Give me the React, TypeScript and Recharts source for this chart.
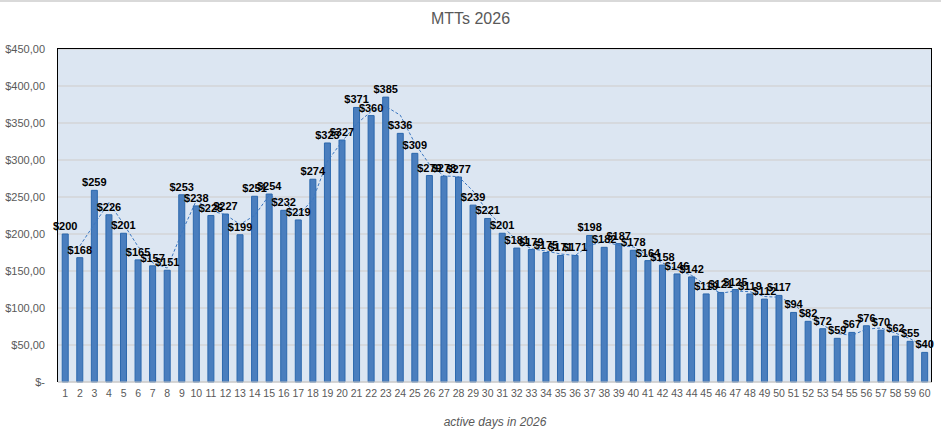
import React from "react";
import {
  Bar,
  CartesianGrid,
  ComposedChart,
  LabelList,
  Line,
  XAxis,
  YAxis,
} from "recharts";

// active days 1..60
const days = Array.from({ length: 60 }, (_, i) => String(i + 1));

const mtts = [
  200, 168, 259, 226, 201, 165, 157, 151, 253, 238,
  225, 227, 199, 251, 254, 232, 219, 274, 323, 327,
  371, 360, 385, 336, 309, 279, 278, 277, 239, 221,
  201, 181, 179, 175, 171, 171, 198, 182, 187, 178,
  164, 158, 146, 142, 119, 121, 125, 119, 112, 117,
  94, 82, 72, 59, 67, 76, 70, 62, 55, 40,
];

// 2-period moving average trendline, as shown in the chart
const trend = [
  null, 184, 213.5, 242.5, 213.5, 183, 161, 154, 202, 245.5,
  231.5, 226, 213, 225, 252.5, 243, 225.5, 246.5, 298.5, 325,
  349, 365.5, 372.5, 360.5, 322.5, 294, 278.5, 277.5, 258, 230,
  211, 191, 180, 177, 173, 171, 184.5, 190, 184.5, 182.5,
  171, 161, 152, 144, 130.5, 120, 123, 122, 115.5, 114.5,
  105.5, 88, 77, 65.5, 63, 71.5, 73, 66, 58.5, 47.5,
];

const yTicks = [0, 50, 100, 150, 200, 250, 300, 350, 400, 450];

const data = days.map((d, i) => ({ day: d, mtts: mtts[i], trend: trend[i] }));

const font = "'Liberation Sans', Arial, sans-serif";

const fmtTick = (v: number) => (v === 0 ? "$-" : `$${v},00`);

export default function App() {
  return (
    <div
      style={{
        position: "absolute",
        left: 0,
        top: 0,
        width: 941,
        height: 439,
        background: "#fff",
        fontFamily: font,
      }}
    >
      <div
        style={{
          position: "absolute",
          top: 0,
          left: 0,
          width: 941,
          height: 0,
          borderTop: "2px solid #d9d9d9",
        }}
      />
      <div
        style={{
          position: "absolute",
          top: 10,
          left: 0,
          width: 941,
          textAlign: "center",
          fontSize: 16,
          color: "#595959",
        }}
      >
        MTTs 2026
      </div>
      <ComposedChart
        width={941}
        height={439}
        data={data}
        margin={{ top: 49, right: 9, bottom: 0, left: 0 }}
        barCategoryGap="29%"
      >
        <CartesianGrid
          vertical={false}
          fill="#dce6f2"
          stroke="#cfccca"
          fillOpacity={1}
        />
        <XAxis
          dataKey="day"
          height={57}
          interval={0}
          tickLine={false}
          axisLine={{ stroke: "#c8c8c8" }}
          tick={{ fontSize: 10.5, fill: "#595959", fontFamily: font }}
          label={{
            value: "active days in 2026",
            position: "insideBottom",
            offset: 13,
            style: {
              fontSize: 12,
              fontStyle: "italic",
              fill: "#595959",
              fontFamily: font,
            },
          }}
        />
        <YAxis
          width={58}
          domain={[0, 450]}
          ticks={yTicks}
          tickFormatter={fmtTick}
          tickLine={false}
          tickMargin={12}
          axisLine={false}
          tick={{ fontSize: 11, fill: "#595959", fontFamily: font, dx: 5 }}
        />
        <Bar
          dataKey="mtts"
          fill="#4a7ebe"
          stroke="#2c68ad"
          strokeWidth={1}
          isAnimationActive={false}
        >
          <LabelList
            dataKey="mtts"
            position="top"
            offset={4}
            formatter={(v: any) => `$${v}`}
            style={{
              fontSize: 11,
              fontWeight: "bold",
              fill: "#000",
              fontFamily: font,
            }}
          />
        </Bar>
        <Line
          dataKey="trend"
          type="linear"
          stroke="#3a76c0"
          strokeWidth={1}
          strokeDasharray="3 2"
          dot={false}
          activeDot={false}
          isAnimationActive={false}
        />
      </ComposedChart>
      {/* plot-area frame: black on left, top and right */}
      <div
        style={{
          position: "absolute",
          left: 57,
          top: 48,
          width: 875,
          height: 334,
          borderLeft: "1.5px solid #000",
          borderTop: "1.5px solid #000",
          borderRight: "1.5px solid #000",
          boxSizing: "border-box",
          pointerEvents: "none",
        }}
      />
    </div>
  );
}
